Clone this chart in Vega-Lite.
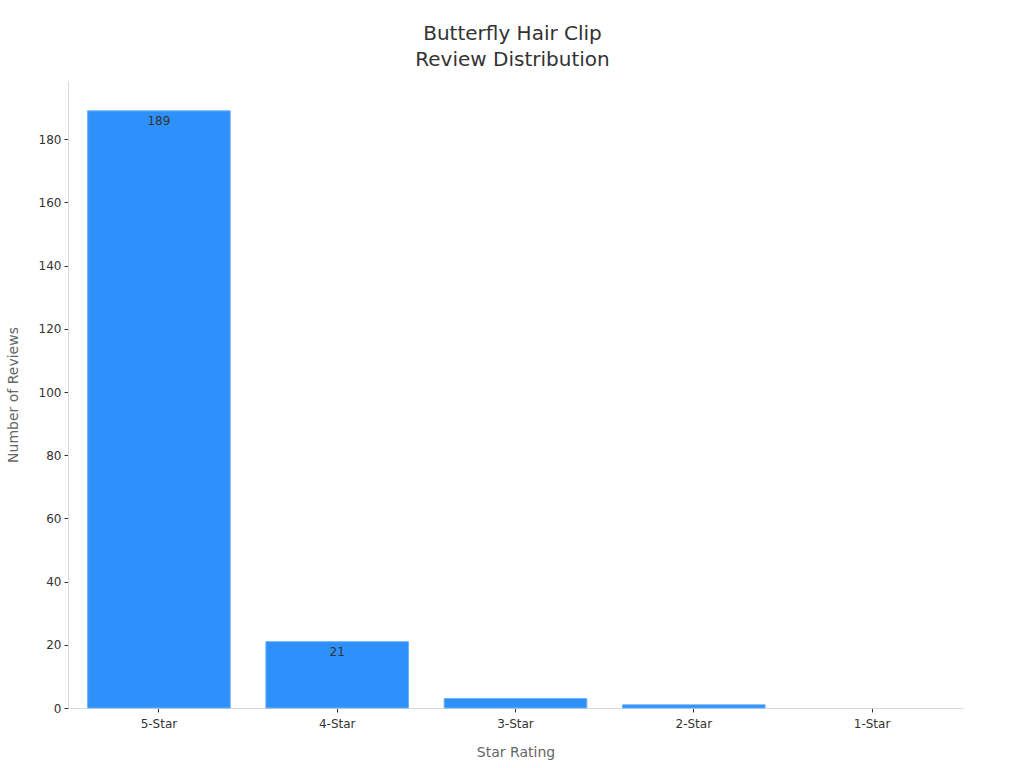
{
  "$schema": "https://vega.github.io/schema/vega-lite/v6.json",
  "width": 895,
  "height": 627,
  "autosize": {"type": "none"},
  "padding": {"left": 68, "top": 81, "right": 61, "bottom": 60},
  "background": "white",
  "title": {
    "text": ["Butterfly Hair Clip", "Review Distribution"],
    "font": "DejaVu Sans",
    "fontSize": 20,
    "fontWeight": "normal",
    "color": "#333333",
    "anchor": "middle",
    "dx": -3,
    "offset": 11,
    "lineHeight": 26
  },
  "data": {
    "values": [
      {"rating": "5-Star", "count": 189},
      {"rating": "4-Star", "count": 21},
      {"rating": "3-Star", "count": 3},
      {"rating": "2-Star", "count": 1},
      {"rating": "1-Star", "count": 0}
    ]
  },
  "config": {
    "view": {"stroke": null},
    "font": "DejaVu Sans"
  },
  "encoding": {
    "x": {
      "field": "rating",
      "type": "nominal",
      "sort": ["5-Star", "4-Star", "3-Star", "2-Star", "1-Star"],
      "scale": {"paddingInner": 0.2, "paddingOuter": 0.11},
      "axis": {
        "title": "Star Rating",
        "titleFont": "DejaVu Sans",
        "titleFontSize": 14,
        "titleFontWeight": "normal",
        "titleColor": "#666666",
        "titlePadding": 16,
        "labelAngle": 0,
        "labelFont": "DejaVu Sans",
        "labelFontSize": 12,
        "labelColor": "#333333",
        "labelPadding": 6,
        "domainColor": "#d9d9d9",
        "tickColor": "#333333",
        "tickSize": 4,
        "grid": false
      }
    },
    "y": {
      "field": "count",
      "type": "quantitative",
      "scale": {"domain": [0, 198.45], "nice": false},
      "axis": {
        "title": "Number of Reviews",
        "titleFont": "DejaVu Sans",
        "titleFontSize": 14,
        "titleFontWeight": "normal",
        "titleColor": "#666666",
        "titlePadding": 18,
        "values": [0, 20, 40, 60, 80, 100, 120, 140, 160, 180],
        "labelFont": "DejaVu Sans",
        "labelFontSize": 12,
        "labelColor": "#333333",
        "labelPadding": 3,
        "domainColor": "#d9d9d9",
        "tickColor": "#333333",
        "tickSize": 4,
        "grid": false
      }
    }
  },
  "layer": [
    {
      "mark": {"type": "bar", "color": "#2e91fb", "stroke": "#6ab0f7", "strokeWidth": 1},
      "encoding": {
        "strokeOpacity": {"condition": {"test": "datum.count > 0", "value": 1}, "value": 0}
      }
    },
    {
      "transform": [{"filter": "datum.count >= 10"}],
      "mark": {"type": "text", "baseline": "top", "dy": 5, "fontSize": 12, "color": "#333333", "font": "DejaVu Sans"},
      "encoding": {"text": {"field": "count", "type": "quantitative"}}
    }
  ]
}
